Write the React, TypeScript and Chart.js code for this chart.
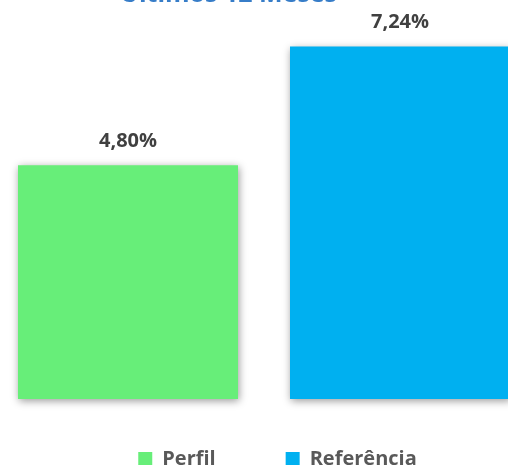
import React, { useEffect, useRef } from "react";
import { Chart, registerables } from "chart.js";

Chart.register(...registerables);

const categories = ["Últimos 12 Meses"];
const seriesNames = ["Perfil", "Referência"];
const perfilValues = [4.8];
const referenciaValues = [7.24];
const seriesColors = ["#67EE79", "#00B0F0"];

const FONT = "'Open Sans', 'DejaVu Sans', sans-serif";

const fmt = (v: number) => v.toFixed(2).replace(".", ",") + "%";

const barDecor = {
  id: "barDecor",
  beforeDatasetsDraw(chart: any) {
    const ctx = chart.ctx;
    ctx.save();
    ctx.shadowColor = "rgba(0,0,0,0.4)";
    ctx.shadowBlur = 8;
    ctx.shadowOffsetX = 1;
    ctx.shadowOffsetY = 2;
  },
  afterDatasetsDraw(chart: any) {
    const ctx = chart.ctx;
    ctx.restore();
    ctx.save();
    ctx.font = `bold 20px ${FONT}`;
    ctx.fillStyle = "#404040";
    ctx.textAlign = "center";
    ctx.textBaseline = "alphabetic";
    chart.data.datasets.forEach((ds: any, di: number) => {
      const meta = chart.getDatasetMeta(di);
      meta.data.forEach((el: any, i: number) => {
        const v = ds.data[i];
        ctx.fillText(fmt(v), el.x, el.y - 18.5);
      });
    });
    ctx.restore();
  },
};

const CL = -20;
const CT = -20;
const CW = 595;
const CH = 499;

export default function App() {
  const ref = useRef<HTMLCanvasElement | null>(null);
  useEffect(() => {
    if (!ref.current) return;
    const chart = new Chart(ref.current, {
      type: "bar",
      data: {
        labels: categories,
        datasets: [
          {
            label: seriesNames[0],
            data: perfilValues,
            backgroundColor: seriesColors[0],
            borderWidth: 0,
            base: 0,
            clip: false as any,
          },
          {
            label: seriesNames[1],
            data: referenciaValues,
            backgroundColor: seriesColors[1],
            borderWidth: 0,
            base: 0,
            clip: false as any,
          },
        ],
      },
      options: {
        animation: false,
        responsive: false,
        devicePixelRatio: 1,
        layout: { padding: 0 },
        datasets: {
          bar: { categoryPercentage: 544 / 288, barPercentage: 220 / 272 },
        },
        scales: {
          x: { display: false },
          y: {
            position: "left",
            min: 0.41,
            max: 7.99,
            grid: { display: false },
            border: { display: false },
            ticks: { display: false },
            afterFit: (s: any) => {
              s.width = 140;
            },
          },
          y2: {
            position: "right",
            grid: { display: false },
            border: { display: false },
            ticks: { display: false },
            afterFit: (s: any) => {
              s.width = 167;
            },
          },
        },
        plugins: {
          title: {
            display: true,
            text: categories[0],
            align: "start",
            fullSize: false,
            color: "#377DC8",
            font: { family: FONT, size: 25, weight: "bold" },
            padding: { top: 0, bottom: 0 },
          },
          legend: {
            position: "bottom",
            labels: {
              boxWidth: 14,
              boxHeight: 14,
              padding: 70,
              color: "#595959",
              font: { family: FONT, size: 20, weight: "bold" },
            },
          },
          tooltip: { enabled: false },
        },
      },
      plugins: [barDecor],
    });
    return () => chart.destroy();
  }, []);

  return (
    <div
      style={{
        position: "absolute",
        left: 0,
        top: 0,
        width: 508,
        height: 465,
        overflow: "hidden",
        background: "#fff",
      }}
    >
      <canvas
        ref={ref}
        width={CW}
        height={CH}
        style={{ position: "absolute", left: CL, top: CT, width: CW, height: CH }}
      />
    </div>
  );
}
